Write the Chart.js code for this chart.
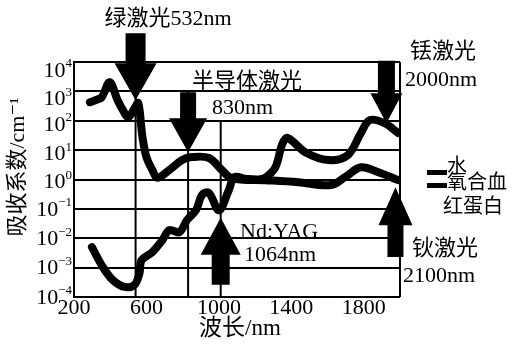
<!DOCTYPE html>
<html><head><meta charset="utf-8">
<script src="https://cdn.jsdelivr.net/npm/chart.js@4"></script>
<style>html,body{margin:0;padding:0;background:#fff}</style>
</head><body>
<canvas id="c" width="519" height="346"></canvas>
<script>
// ---- data ----
const waterNm  = [299, 359, 414, 479, 534, 562, 573, 633, 688, 726, 781, 825, 874, 907, 945, 1000, 1055, 1085, 1150, 1220, 1260, 1312, 1350, 1380, 1477, 1603, 1712, 1784, 1833, 1915, 1990];
const waterAbs = [5.0e-3, 1.05e-3, 3.8e-4, 2.2e-4, 2.6e-4, 6.6e-4, 1.8e-3, 3.4e-3, 8.7e-3, 1.9e-2, 1.6e-2, 4.2e-2, 9.1e-2, 0.30, 0.35, 0.09, 0.44, 1.2, 1.05, 1.0, 1.2, 2.6, 16, 26, 8.5, 4.6, 6.8, 38, 105, 83, 38];
const hbNm  = [288, 325, 353, 397, 441, 470, 500, 535, 555, 578, 600, 633, 660, 726, 797, 852, 945, 1016, 1071, 1257, 1438, 1619, 1696, 1784, 1877, 1990];
const hbAbs = [427, 520, 630, 2040, 500, 230, 130, 270, 400, 28, 5.8, 2.1, 1.15, 2.1, 4.6, 5.8, 5.4, 2.1, 1.1, 0.95, 0.81, 0.65, 1.2, 2.6, 1.8, 0.95];
const seriesLabels = ['水', '氧合血红蛋白'];
const xTicks = [200, 600, 1000, 1400, 1800];
const yTickExps = [4, 3, 2, 1, 0, -1, -2, -3, -4];
const xTitle = '波长/nm';
const yTitle = '吸收系数/cm⁻¹';
// laser annotations
const laserNm   = [540, 830, 1010, 1925, 1975];
const arrowTip  = [500, 8.5, 0.05, 83, 0.55];
const arrowTail = [9.5e4, 930, 2.6e-4, 1.1e4, 2.3e-3];
const laserLineTop = [1e4, 1e3, 1e2];
const laserText = [['绿激光532nm'], ['半导体激光', '830nm'], ['Nd:YAG', '1064nm'], ['铥激光', '2000nm'], ['钬激光', '2100nm']];

const FONT = "'Liberation Serif', 'DejaVu Serif', 'Noto Sans CJK SC', serif";

const overlay = {
  id: 'overlay',
  beforeDatasetsDraw(chart) {
    const {ctx, chartArea: a, scales: {x, y}} = chart;
    ctx.save();
    ctx.strokeStyle = '#000';
    ctx.lineWidth = 2;
    laserLineTop.forEach((top, i) => {
      const px = x.getPixelForValue(laserNm[i]);
      ctx.beginPath();
      ctx.moveTo(px, y.getPixelForValue(top));
      ctx.lineTo(px, a.bottom);
      ctx.stroke();
    });
    ctx.beginPath();
    ctx.moveTo(a.right, a.top); ctx.lineTo(a.right, a.bottom);
    ctx.stroke();
    ctx.restore();
  },
  afterDraw(chart) {
    const {ctx, chartArea: a, scales: {x, y}} = chart;
    ctx.save();
    ctx.fillStyle = '#000';
    // arrows
    const dims = [[20, 42, 37], [16, 38, 34], [18, 40, 37], [17, 32, 30], [16, 34, 38]];
    laserNm.forEach((nm, i) => {
      const cx = x.getPixelForValue(nm);
      const yt = y.getPixelForValue(arrowTip[i]);
      const yb = y.getPixelForValue(arrowTail[i]);
      const [sw, hw, hl] = dims[i];
      const dir = yb < yt ? 1 : -1;
      const ybase = yt - dir * hl;
      ctx.beginPath();
      ctx.moveTo(cx - sw / 2, yb);
      ctx.lineTo(cx + sw / 2, yb);
      ctx.lineTo(cx + sw / 2, ybase);
      ctx.lineTo(cx + hw / 2, ybase);
      ctx.lineTo(cx, yt);
      ctx.lineTo(cx - hw / 2, ybase);
      ctx.lineTo(cx - sw / 2, ybase);
      ctx.closePath();
      ctx.fill();
    });
    // annotation texts
    ctx.textBaseline = 'middle';
    const tpos = [
      [[168, 19, 'center']],
      [[192, 82, 'left'], [212, 108, 'left']],
      [[240, 232, 'left'], [244, 255, 'left']],
      [[410, 52, 'left'], [405, 80, 'left']],
      [[412, 249, 'left'], [403, 276, 'left']]
    ];
    ctx.font = '22px ' + FONT;
    laserText.forEach((lines, i) => {
      lines.forEach((t, j) => {
        const [tx, ty, al] = tpos[i][j];
        ctx.textAlign = al;
        ctx.fillText(t, tx, ty);
      });
    });
    // legend
    ctx.font = '20px ' + FONT;
    ctx.textAlign = 'left';
    ctx.fillRect(427, 170, 20, 5);
    ctx.fillText(seriesLabels[0], 447, 168);
    ctx.fillRect(427, 183, 20, 5);
    ctx.fillText(seriesLabels[1].slice(0, 3), 447, 184);
    ctx.fillText(seriesLabels[1].slice(3), 443, 208);
    // y tick labels 10^n
    const offs = [8, 7, 3, 3, 2, 0, 0, 0, 0];
    yTickExps.forEach((e, i) => {
      const py = y.getPixelForValue(Number('1e' + e)) + offs[i];
      const es = e < 0 ? '−' + (-e) : String(e);
      ctx.textAlign = 'right';
      ctx.font = '13px ' + FONT;
      const ew = ctx.measureText(es).width;
      ctx.fillText(es, 72, py - 6);
      ctx.font = '22px ' + FONT;
      ctx.fillText('10', 72 - ew, py + 1);
    });
    // axis titles
    ctx.textAlign = 'center';
    ctx.font = '23px ' + FONT;
    ctx.fillText(xTitle, 240, 329);
    ctx.translate(18, 167);
    ctx.rotate(-Math.PI / 2);
    ctx.font = '22px ' + FONT;
    ctx.fillText(yTitle, 0, 0);
    ctx.restore();
  }
};

const mk = (xs, ys) => xs.map((v, i) => ({x: v, y: ys[i]}));
new Chart(document.getElementById('c'), {
  type: 'line',
  data: {
    datasets: [
      {label: seriesLabels[0], data: mk(waterNm, waterAbs), borderColor: '#000', borderWidth: 8, pointRadius: 0, tension: 0.35, fill: false, borderCapStyle: 'round', borderJoinStyle: 'round'},
      {label: seriesLabels[1], data: mk(hbNm, hbAbs), borderColor: '#000', borderWidth: 8, pointRadius: 0, tension: 0.35, fill: false, borderCapStyle: 'round', borderJoinStyle: 'round'}
    ]
  },
  options: {
    responsive: false,
    animation: false,
    devicePixelRatio: 1,
    layout: {padding: {top: 62, right: 119, left: 0, bottom: 0}},
    plugins: {legend: {display: false}, tooltip: {enabled: false}},
    scales: {
      x: {
        type: 'linear', min: 200, max: 2000,
        afterBuildTicks: s => { s.ticks = xTicks.map(v => ({value: v})); },
        afterFit: s => { s.height = 49; },
        grid: {display: false, drawTicks: false},
        border: {display: false},
        ticks: {color: '#000', padding: 0, maxRotation: 0, autoSkip: false,
          font: {family: FONT, size: 22, lineHeight: 1}, callback: v => String(v)}
      },
      y: {
        type: 'logarithmic', min: 1e-4, max: 1e4,
        afterBuildTicks: s => { s.ticks = yTickExps.map(e => ({value: Number('1e' + e)})); },
        afterFit: s => { s.width = 74; },
        grid: {color: '#000', lineWidth: 2, drawTicks: false},
        border: {display: true, color: '#000', width: 2},
        ticks: {display: false}
      }
    }
  },
  plugins: [overlay]
});
</script>
</body></html>
